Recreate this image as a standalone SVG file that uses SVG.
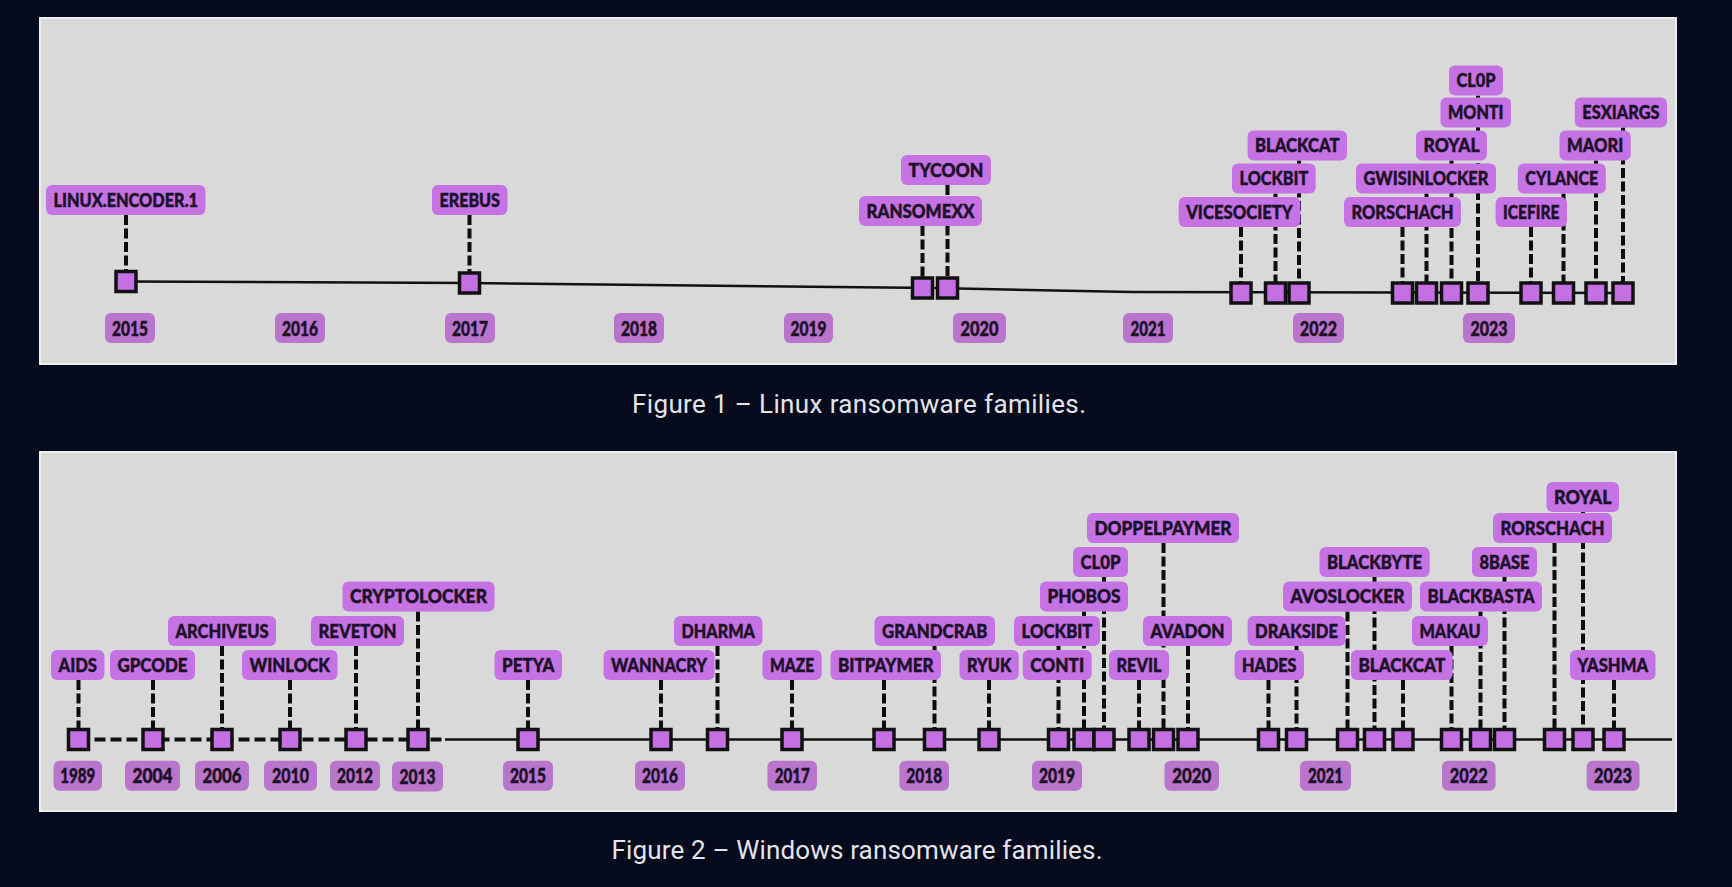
<svg xmlns="http://www.w3.org/2000/svg" width="1732" height="887" viewBox="0 0 1732 887">
<style>
.bg{fill:#050a1d}
.panel{fill:#d9d9d9;stroke:#eeeeee;stroke-width:2}
.lb{fill:#c472e4}
.lt{font-family:Lato,"Noto Sans","Liberation Sans",sans-serif;font-weight:900;font-size:18px;fill:#1d1128;stroke:#1d1128;stroke-width:0.45;text-anchor:middle}
.yb{fill:#b974cc}
.yt{font-family:Lato,"Noto Sans","Liberation Sans",sans-serif;font-weight:900;font-size:20.5px;fill:#1d1128;stroke:#1d1128;stroke-width:0.5;text-anchor:middle}
.sq{fill:#c46fe2;stroke:#111111;stroke-width:3.5}
.con line{stroke:#0c0c0c;stroke-width:4;stroke-dasharray:10 3.5;fill:none}
.axis{stroke:#111111;stroke-width:2.5;fill:none}
.axd{stroke:#111111;stroke-width:4;stroke-dasharray:11 5;fill:none}
.cap{font-family:Roboto,"Open Sans","Liberation Sans",sans-serif;font-size:26px;fill:#e4e4ea;text-anchor:middle}
</style>
<rect class="bg" x="0" y="0" width="1732" height="887"/>

<!-- ================= FIGURE 1 ================= -->
<g id="figure1">
<rect class="panel" x="40" y="18" width="1636" height="346"/>
<polyline class="axis" points="126,281.5 469.5,283 935,288 1132,292 1623,293"/>

<g id="f1-years">
<g id="f1-y2015"><rect class="yb" x="105" y="313" width="50" height="30" rx="6"/><text class="yt" x="130" y="335.5" textLength="36" lengthAdjust="spacingAndGlyphs">2015</text></g>
<g id="f1-y2016"><rect class="yb" x="275" y="313" width="50" height="30" rx="6"/><text class="yt" x="300" y="335.5" textLength="36" lengthAdjust="spacingAndGlyphs">2016</text></g>
<g id="f1-y2017"><rect class="yb" x="445" y="313" width="50" height="30" rx="6"/><text class="yt" x="470" y="335.5" textLength="36" lengthAdjust="spacingAndGlyphs">2017</text></g>
<g id="f1-y2018"><rect class="yb" x="614" y="313" width="50" height="30" rx="6"/><text class="yt" x="639" y="335.5" textLength="36" lengthAdjust="spacingAndGlyphs">2018</text></g>
<g id="f1-y2019"><rect class="yb" x="784" y="313" width="49" height="30" rx="6"/><text class="yt" x="808.5" y="335.5" textLength="36" lengthAdjust="spacingAndGlyphs">2019</text></g>
<g id="f1-y2020"><rect class="yb" x="953" y="313" width="53" height="30" rx="6"/><text class="yt" x="979.5" y="335.5" textLength="38" lengthAdjust="spacingAndGlyphs">2020</text></g>
<g id="f1-y2021"><rect class="yb" x="1123" y="313" width="50" height="30" rx="6"/><text class="yt" x="1148" y="335.5" textLength="35" lengthAdjust="spacingAndGlyphs">2021</text></g>
<g id="f1-y2022"><rect class="yb" x="1293" y="313" width="51" height="30" rx="6"/><text class="yt" x="1318.5" y="335.5" textLength="37" lengthAdjust="spacingAndGlyphs">2022</text></g>
<g id="f1-y2023"><rect class="yb" x="1463" y="313" width="52" height="30" rx="6"/><text class="yt" x="1489" y="335.5" textLength="37" lengthAdjust="spacingAndGlyphs">2023</text></g>
</g>

<g id="f1-connectors" class="con">
<line x1="126" y1="215" x2="126" y2="271.5"/>
<line x1="469.5" y1="215" x2="469.5" y2="273"/>
<line x1="922.5" y1="226" x2="922.5" y2="278"/>
<line x1="947.5" y1="185" x2="947.5" y2="278"/>
<line x1="1241" y1="227" x2="1241" y2="283"/>
<line x1="1275.5" y1="193.5" x2="1275.5" y2="283"/>
<line x1="1299" y1="160.5" x2="1299" y2="283"/>
<line x1="1402.5" y1="227" x2="1402.5" y2="283"/>
<line x1="1426.5" y1="193.5" x2="1426.5" y2="283"/>
<line x1="1451.5" y1="160.5" x2="1451.5" y2="283"/>
<line x1="1478" y1="95.5" x2="1478" y2="283"/>
<line x1="1531" y1="227" x2="1531" y2="283"/>
<line x1="1563.5" y1="193.5" x2="1563.5" y2="283"/>
<line x1="1596" y1="160.5" x2="1596" y2="283"/>
<line x1="1623" y1="127.5" x2="1623" y2="283"/>
</g>

<g id="f1-linux-encoder-1"><rect class="sq" x="116" y="271.5" width="20" height="20"/><rect class="lb" x="46" y="185" width="159.5" height="30" rx="6"/><text class="lt" x="125.75" y="206.5" textLength="144.5" lengthAdjust="spacingAndGlyphs">LINUX.ENCODER.1</text></g>
<g id="f1-erebus"><rect class="sq" x="459.5" y="273" width="20" height="20"/><rect class="lb" x="432" y="185" width="75.5" height="30" rx="6"/><text class="lt" x="469.75" y="206.5" textLength="60.5" lengthAdjust="spacingAndGlyphs">EREBUS</text></g>
<g id="f1-ransomexx"><rect class="sq" x="912.5" y="278" width="20" height="20"/><rect class="lb" x="859" y="196" width="123" height="30" rx="6"/><text class="lt" x="920.5" y="217.5" textLength="108" lengthAdjust="spacingAndGlyphs">RANSOMEXX</text></g>
<g id="f1-tycoon"><rect class="sq" x="937.5" y="278" width="20" height="20"/><rect class="lb" x="901" y="155" width="90" height="30" rx="6"/><text class="lt" x="946" y="176.5" textLength="75" lengthAdjust="spacingAndGlyphs">TYCOON</text></g>
<g id="f1-vicesociety"><rect class="sq" x="1231" y="283" width="20" height="20"/><rect class="lb" x="1178.7" y="197" width="121.7" height="30" rx="6"/><text class="lt" x="1239.5" y="218.5" textLength="106.7" lengthAdjust="spacingAndGlyphs">VICESOCIETY</text></g>
<g id="f1-lockbit"><rect class="sq" x="1265.5" y="283" width="20" height="20"/><rect class="lb" x="1232" y="163.5" width="83.7" height="30" rx="6"/><text class="lt" x="1273.9" y="185" textLength="68.7" lengthAdjust="spacingAndGlyphs">LOCKBIT</text></g>
<g id="f1-blackcat"><rect class="sq" x="1289" y="283" width="20" height="20"/><rect class="lb" x="1247.6" y="130.5" width="99.4" height="30" rx="6"/><text class="lt" x="1297.3" y="152" textLength="84.4" lengthAdjust="spacingAndGlyphs">BLACKCAT</text></g>
<g id="f1-rorschach"><rect class="sq" x="1392.5" y="283" width="20" height="20"/><rect class="lb" x="1344" y="197" width="117" height="30" rx="6"/><text class="lt" x="1402.5" y="218.5" textLength="102" lengthAdjust="spacingAndGlyphs">RORSCHACH</text></g>
<g id="f1-gwisinlocker"><rect class="sq" x="1416.5" y="283" width="20" height="20"/><rect class="lb" x="1356" y="163.5" width="140" height="30" rx="6"/><text class="lt" x="1426" y="185" textLength="125" lengthAdjust="spacingAndGlyphs">GWISINLOCKER</text></g>
<g id="f1-royal"><rect class="sq" x="1441.5" y="283" width="20" height="20"/><rect class="lb" x="1416" y="130.5" width="71" height="30" rx="6"/><text class="lt" x="1451.5" y="152" textLength="56" lengthAdjust="spacingAndGlyphs">ROYAL</text></g>
<g id="f1-monti"><rect class="lb" x="1440.5" y="97.5" width="70.5" height="30" rx="6"/><text class="lt" x="1475.75" y="119" textLength="55.5" lengthAdjust="spacingAndGlyphs">MONTI</text></g>
<g id="f1-cl0p"><rect class="sq" x="1468" y="283" width="20" height="20"/><rect class="lb" x="1449" y="65.5" width="54" height="30" rx="6"/><text class="lt" x="1476" y="87" textLength="39" lengthAdjust="spacingAndGlyphs">CL0P</text></g>
<g id="f1-icefire"><rect class="sq" x="1521" y="283" width="20" height="20"/><rect class="lb" x="1495.6" y="197" width="71.4" height="30" rx="6"/><text class="lt" x="1531.3" y="218.5" textLength="56.4" lengthAdjust="spacingAndGlyphs">ICEFIRE</text></g>
<g id="f1-cylance"><rect class="sq" x="1553.5" y="283" width="20" height="20"/><rect class="lb" x="1517.8" y="163.5" width="88" height="30" rx="6"/><text class="lt" x="1561.8" y="185" textLength="73" lengthAdjust="spacingAndGlyphs">CYLANCE</text></g>
<g id="f1-maori"><rect class="sq" x="1586" y="283" width="20" height="20"/><rect class="lb" x="1559.5" y="130.5" width="71.2" height="30" rx="6"/><text class="lt" x="1595.1" y="152" textLength="56.2" lengthAdjust="spacingAndGlyphs">MAORI</text></g>
<g id="f1-esxiargs"><rect class="sq" x="1613" y="283" width="20" height="20"/><rect class="lb" x="1574.8" y="97.5" width="92.2" height="30" rx="6"/><text class="lt" x="1620.9" y="119" textLength="77.2" lengthAdjust="spacingAndGlyphs">ESXIARGS</text></g>
</g>
<text id="caption1" class="cap" x="859" y="413" textLength="454" lengthAdjust="spacing">Figure 1 – Linux ransomware families.</text>

<!-- ================= FIGURE 2 ================= -->
<g id="figure2">
<rect class="panel" x="40" y="452" width="1636" height="359"/>
<line class="axd" x1="78.5" y1="739.5" x2="445" y2="739.5"/>
<line class="axis" x1="445" y1="739.5" x2="1672" y2="739.5"/>

<g id="f2-years">
<g id="f2-y1989"><rect class="yb" x="53.6" y="760.7" width="48.4" height="30" rx="6"/><text class="yt" x="77.8" y="783.2" textLength="35" lengthAdjust="spacingAndGlyphs">1989</text></g>
<g id="f2-y2004"><rect class="yb" x="125" y="760.7" width="55" height="30" rx="6"/><text class="yt" x="152.5" y="783.2" textLength="40" lengthAdjust="spacingAndGlyphs">2004</text></g>
<g id="f2-y2006"><rect class="yb" x="195" y="760.7" width="54" height="30" rx="6"/><text class="yt" x="222" y="783.2" textLength="39" lengthAdjust="spacingAndGlyphs">2006</text></g>
<g id="f2-y2010"><rect class="yb" x="264" y="760.7" width="53" height="30" rx="6"/><text class="yt" x="290.5" y="783.2" textLength="37" lengthAdjust="spacingAndGlyphs">2010</text></g>
<g id="f2-y2012"><rect class="yb" x="330" y="760.7" width="50" height="30" rx="6"/><text class="yt" x="355" y="783.2" textLength="36" lengthAdjust="spacingAndGlyphs">2012</text></g>
<g id="f2-y2013"><rect class="yb" x="392" y="761.5" width="51" height="30" rx="6"/><text class="yt" x="417.5" y="784" textLength="36" lengthAdjust="spacingAndGlyphs">2013</text></g>
<g id="f2-y2015"><rect class="yb" x="503" y="760.7" width="50" height="30" rx="6"/><text class="yt" x="528" y="783.2" textLength="36" lengthAdjust="spacingAndGlyphs">2015</text></g>
<g id="f2-y2016"><rect class="yb" x="635" y="760.7" width="50" height="30" rx="6"/><text class="yt" x="660" y="783.2" textLength="36" lengthAdjust="spacingAndGlyphs">2016</text></g>
<g id="f2-y2017"><rect class="yb" x="767.4" y="760.7" width="49.6" height="30" rx="6"/><text class="yt" x="792.2" y="783.2" textLength="35" lengthAdjust="spacingAndGlyphs">2017</text></g>
<g id="f2-y2018"><rect class="yb" x="899.4" y="760.7" width="49.6" height="30" rx="6"/><text class="yt" x="924.2" y="783.2" textLength="36" lengthAdjust="spacingAndGlyphs">2018</text></g>
<g id="f2-y2019"><rect class="yb" x="1032" y="760.7" width="50" height="30" rx="6"/><text class="yt" x="1057" y="783.2" textLength="36" lengthAdjust="spacingAndGlyphs">2019</text></g>
<g id="f2-y2020"><rect class="yb" x="1164.5" y="760.7" width="54.5" height="30" rx="6"/><text class="yt" x="1191.75" y="783.2" textLength="39" lengthAdjust="spacingAndGlyphs">2020</text></g>
<g id="f2-y2021"><rect class="yb" x="1300" y="760.7" width="51" height="30" rx="6"/><text class="yt" x="1325.5" y="783.2" textLength="35" lengthAdjust="spacingAndGlyphs">2021</text></g>
<g id="f2-y2022"><rect class="yb" x="1442" y="760.7" width="53.6" height="30" rx="6"/><text class="yt" x="1468.8" y="783.2" textLength="38" lengthAdjust="spacingAndGlyphs">2022</text></g>
<g id="f2-y2023"><rect class="yb" x="1586.6" y="760.7" width="52.9" height="30" rx="6"/><text class="yt" x="1613" y="783.2" textLength="38" lengthAdjust="spacingAndGlyphs">2023</text></g>
</g>

<g id="f2-connectors" class="con">
<line x1="78.5" y1="680" x2="78.5" y2="729.5"/>
<line x1="153" y1="680" x2="153" y2="729.5"/>
<line x1="222" y1="646" x2="222" y2="729.5"/>
<line x1="290" y1="680" x2="290" y2="729.5"/>
<line x1="356" y1="646" x2="356" y2="729.5"/>
<line x1="418" y1="611.5" x2="418" y2="729.5"/>
<line x1="528" y1="680" x2="528" y2="729.5"/>
<line x1="661" y1="680" x2="661" y2="729.5"/>
<line x1="717.5" y1="646" x2="717.5" y2="729.5"/>
<line x1="792" y1="680" x2="792" y2="729.5"/>
<line x1="884" y1="680" x2="884" y2="729.5"/>
<line x1="934.5" y1="646" x2="934.5" y2="729.5"/>
<line x1="989" y1="680" x2="989" y2="729.5"/>
<line x1="1058.5" y1="646" x2="1058.5" y2="729.5"/>
<line x1="1084" y1="611.5" x2="1084" y2="729.5"/>
<line x1="1104" y1="577" x2="1104" y2="729.5"/>
<line x1="1139" y1="680" x2="1139" y2="729.5"/>
<line x1="1163.5" y1="543" x2="1163.5" y2="729.5"/>
<line x1="1188" y1="646" x2="1188" y2="729.5"/>
<line x1="1268.5" y1="680" x2="1268.5" y2="729.5"/>
<line x1="1296.5" y1="646" x2="1296.5" y2="729.5"/>
<line x1="1347.5" y1="611.5" x2="1347.5" y2="729.5"/>
<line x1="1374.5" y1="577" x2="1374.5" y2="729.5"/>
<line x1="1403" y1="680" x2="1403" y2="729.5"/>
<line x1="1451.5" y1="646" x2="1451.5" y2="729.5"/>
<line x1="1480.5" y1="611.5" x2="1480.5" y2="729.5"/>
<line x1="1504.5" y1="577" x2="1504.5" y2="729.5"/>
<line x1="1554.5" y1="543" x2="1554.5" y2="729.5"/>
<line x1="1583" y1="512" x2="1583" y2="729.5"/>
<line x1="1614" y1="680" x2="1614" y2="729.5"/>
</g>

<g id="f2-aids"><rect class="sq" x="68.5" y="729.5" width="20" height="20"/><rect class="lb" x="51" y="650" width="53.5" height="30" rx="6"/><text class="lt" x="77.75" y="671.5" textLength="38.5" lengthAdjust="spacingAndGlyphs">AIDS</text></g>
<g id="f2-gpcode"><rect class="sq" x="143" y="729.5" width="20" height="20"/><rect class="lb" x="110" y="650" width="85" height="30" rx="6"/><text class="lt" x="152.5" y="671.5" textLength="70" lengthAdjust="spacingAndGlyphs">GPCODE</text></g>
<g id="f2-archiveus"><rect class="sq" x="212" y="729.5" width="20" height="20"/><rect class="lb" x="168" y="616" width="108" height="30" rx="6"/><text class="lt" x="222" y="637.5" textLength="93" lengthAdjust="spacingAndGlyphs">ARCHIVEUS</text></g>
<g id="f2-winlock"><rect class="sq" x="280" y="729.5" width="20" height="20"/><rect class="lb" x="242" y="650" width="95.5" height="30" rx="6"/><text class="lt" x="289.75" y="671.5" textLength="80.5" lengthAdjust="spacingAndGlyphs">WINLOCK</text></g>
<g id="f2-reveton"><rect class="sq" x="346" y="729.5" width="20" height="20"/><rect class="lb" x="311" y="616" width="93" height="30" rx="6"/><text class="lt" x="357.5" y="637.5" textLength="78" lengthAdjust="spacingAndGlyphs">REVETON</text></g>
<g id="f2-cryptolocker"><rect class="sq" x="408" y="729.5" width="20" height="20"/><rect class="lb" x="342.5" y="581.5" width="152" height="30" rx="6"/><text class="lt" x="418.5" y="603" textLength="137" lengthAdjust="spacingAndGlyphs">CRYPTOLOCKER</text></g>
<g id="f2-petya"><rect class="sq" x="518" y="729.5" width="20" height="20"/><rect class="lb" x="494.5" y="650" width="67.5" height="30" rx="6"/><text class="lt" x="528.25" y="671.5" textLength="52.5" lengthAdjust="spacingAndGlyphs">PETYA</text></g>
<g id="f2-wannacry"><rect class="sq" x="651" y="729.5" width="20" height="20"/><rect class="lb" x="603.6" y="650" width="111" height="30" rx="6"/><text class="lt" x="659.1" y="671.5" textLength="96" lengthAdjust="spacingAndGlyphs">WANNACRY</text></g>
<g id="f2-dharma"><rect class="sq" x="707.5" y="729.5" width="20" height="20"/><rect class="lb" x="674" y="616" width="88.4" height="30" rx="6"/><text class="lt" x="718.2" y="637.5" textLength="73.4" lengthAdjust="spacingAndGlyphs">DHARMA</text></g>
<g id="f2-maze"><rect class="sq" x="782" y="729.5" width="20" height="20"/><rect class="lb" x="762.4" y="650" width="59.3" height="30" rx="6"/><text class="lt" x="792.05" y="671.5" textLength="44.3" lengthAdjust="spacingAndGlyphs">MAZE</text></g>
<g id="f2-bitpaymer"><rect class="sq" x="874" y="729.5" width="20" height="20"/><rect class="lb" x="830.5" y="650" width="110.5" height="30" rx="6"/><text class="lt" x="885.75" y="671.5" textLength="95.5" lengthAdjust="spacingAndGlyphs">BITPAYMER</text></g>
<g id="f2-grandcrab"><rect class="sq" x="924.5" y="729.5" width="20" height="20"/><rect class="lb" x="874.5" y="616" width="120.5" height="30" rx="6"/><text class="lt" x="934.75" y="637.5" textLength="105.5" lengthAdjust="spacingAndGlyphs">GRANDCRAB</text></g>
<g id="f2-ryuk"><rect class="sq" x="979" y="729.5" width="20" height="20"/><rect class="lb" x="959.5" y="650" width="59.3" height="30" rx="6"/><text class="lt" x="989.15" y="671.5" textLength="44.3" lengthAdjust="spacingAndGlyphs">RYUK</text></g>
<g id="f2-lockbit"><rect class="sq" x="1048.5" y="729.5" width="20" height="20"/><rect class="lb" x="1014" y="616" width="86" height="30" rx="6"/><text class="lt" x="1057" y="637.5" textLength="71" lengthAdjust="spacingAndGlyphs">LOCKBIT</text></g>
<g id="f2-conti"><rect class="lb" x="1022.7" y="650" width="69" height="30" rx="6"/><text class="lt" x="1057.2" y="671.5" textLength="54" lengthAdjust="spacingAndGlyphs">CONTI</text></g>
<g id="f2-phobos"><rect class="sq" x="1074" y="729.5" width="20" height="20"/><rect class="lb" x="1040" y="581.5" width="88" height="30" rx="6"/><text class="lt" x="1084" y="603" textLength="73" lengthAdjust="spacingAndGlyphs">PHOBOS</text></g>
<g id="f2-cl0p"><rect class="sq" x="1094" y="729.5" width="20" height="20"/><rect class="lb" x="1073" y="547" width="55" height="30" rx="6"/><text class="lt" x="1100.5" y="568.5" textLength="40" lengthAdjust="spacingAndGlyphs">CL0P</text></g>
<g id="f2-doppelpaymer"><rect class="sq" x="1153.5" y="729.5" width="20" height="20"/><rect class="lb" x="1087" y="513" width="152" height="30" rx="6"/><text class="lt" x="1163" y="534.5" textLength="137" lengthAdjust="spacingAndGlyphs">DOPPELPAYMER</text></g>
<g id="f2-revil"><rect class="sq" x="1129" y="729.5" width="20" height="20"/><rect class="lb" x="1109" y="650" width="60" height="30" rx="6"/><text class="lt" x="1139" y="671.5" textLength="45" lengthAdjust="spacingAndGlyphs">REVIL</text></g>
<g id="f2-avadon"><rect class="sq" x="1178" y="729.5" width="20" height="20"/><rect class="lb" x="1143" y="616" width="89" height="30" rx="6"/><text class="lt" x="1187.5" y="637.5" textLength="74" lengthAdjust="spacingAndGlyphs">AVADON</text></g>
<g id="f2-hades"><rect class="sq" x="1258.5" y="729.5" width="20" height="20"/><rect class="lb" x="1234.6" y="650" width="69.4" height="30" rx="6"/><text class="lt" x="1269.3" y="671.5" textLength="54.4" lengthAdjust="spacingAndGlyphs">HADES</text></g>
<g id="f2-drakside"><rect class="sq" x="1286.5" y="729.5" width="20" height="20"/><rect class="lb" x="1247.6" y="616" width="97.9" height="30" rx="6"/><text class="lt" x="1296.55" y="637.5" textLength="82.9" lengthAdjust="spacingAndGlyphs">DRAKSIDE</text></g>
<g id="f2-avoslocker"><rect class="sq" x="1337.5" y="729.5" width="20" height="20"/><rect class="lb" x="1283" y="581.5" width="129" height="30" rx="6"/><text class="lt" x="1347.5" y="603" textLength="114" lengthAdjust="spacingAndGlyphs">AVOSLOCKER</text></g>
<g id="f2-blackbyte"><rect class="sq" x="1364.5" y="729.5" width="20" height="20"/><rect class="lb" x="1319.5" y="547" width="110.2" height="30" rx="6"/><text class="lt" x="1374.6" y="568.5" textLength="95.2" lengthAdjust="spacingAndGlyphs">BLACKBYTE</text></g>
<g id="f2-blackcat"><rect class="sq" x="1393" y="729.5" width="20" height="20"/><rect class="lb" x="1351" y="650" width="101.7" height="30" rx="6"/><text class="lt" x="1401.85" y="671.5" textLength="86.7" lengthAdjust="spacingAndGlyphs">BLACKCAT</text></g>
<g id="f2-makau"><rect class="sq" x="1441.5" y="729.5" width="20" height="20"/><rect class="lb" x="1412" y="616" width="76" height="30" rx="6"/><text class="lt" x="1450" y="637.5" textLength="61" lengthAdjust="spacingAndGlyphs">MAKAU</text></g>
<g id="f2-blackbasta"><rect class="sq" x="1470.5" y="729.5" width="20" height="20"/><rect class="lb" x="1420" y="581.5" width="122" height="30" rx="6"/><text class="lt" x="1481" y="603" textLength="107" lengthAdjust="spacingAndGlyphs">BLACKBASTA</text></g>
<g id="f2-8base"><rect class="sq" x="1494.5" y="729.5" width="20" height="20"/><rect class="lb" x="1472" y="547" width="65" height="30" rx="6"/><text class="lt" x="1504.5" y="568.5" textLength="50" lengthAdjust="spacingAndGlyphs">8BASE</text></g>
<g id="f2-rorschach"><rect class="sq" x="1544.5" y="729.5" width="20" height="20"/><rect class="lb" x="1493" y="513" width="119" height="30" rx="6"/><text class="lt" x="1552.5" y="534.5" textLength="104" lengthAdjust="spacingAndGlyphs">RORSCHACH</text></g>
<g id="f2-royal"><rect class="sq" x="1573" y="729.5" width="20" height="20"/><rect class="lb" x="1546.5" y="482" width="72.5" height="30" rx="6"/><text class="lt" x="1582.75" y="503.5" textLength="57.5" lengthAdjust="spacingAndGlyphs">ROYAL</text></g>
<g id="f2-yashma"><rect class="sq" x="1604" y="729.5" width="20" height="20"/><rect class="lb" x="1570" y="650" width="85.5" height="30" rx="6"/><text class="lt" x="1612.75" y="671.5" textLength="70.5" lengthAdjust="spacingAndGlyphs">YASHMA</text></g>
</g>
<text id="caption2" class="cap" x="857" y="859" textLength="491" lengthAdjust="spacing">Figure 2 – Windows ransomware families.</text>
</svg>
